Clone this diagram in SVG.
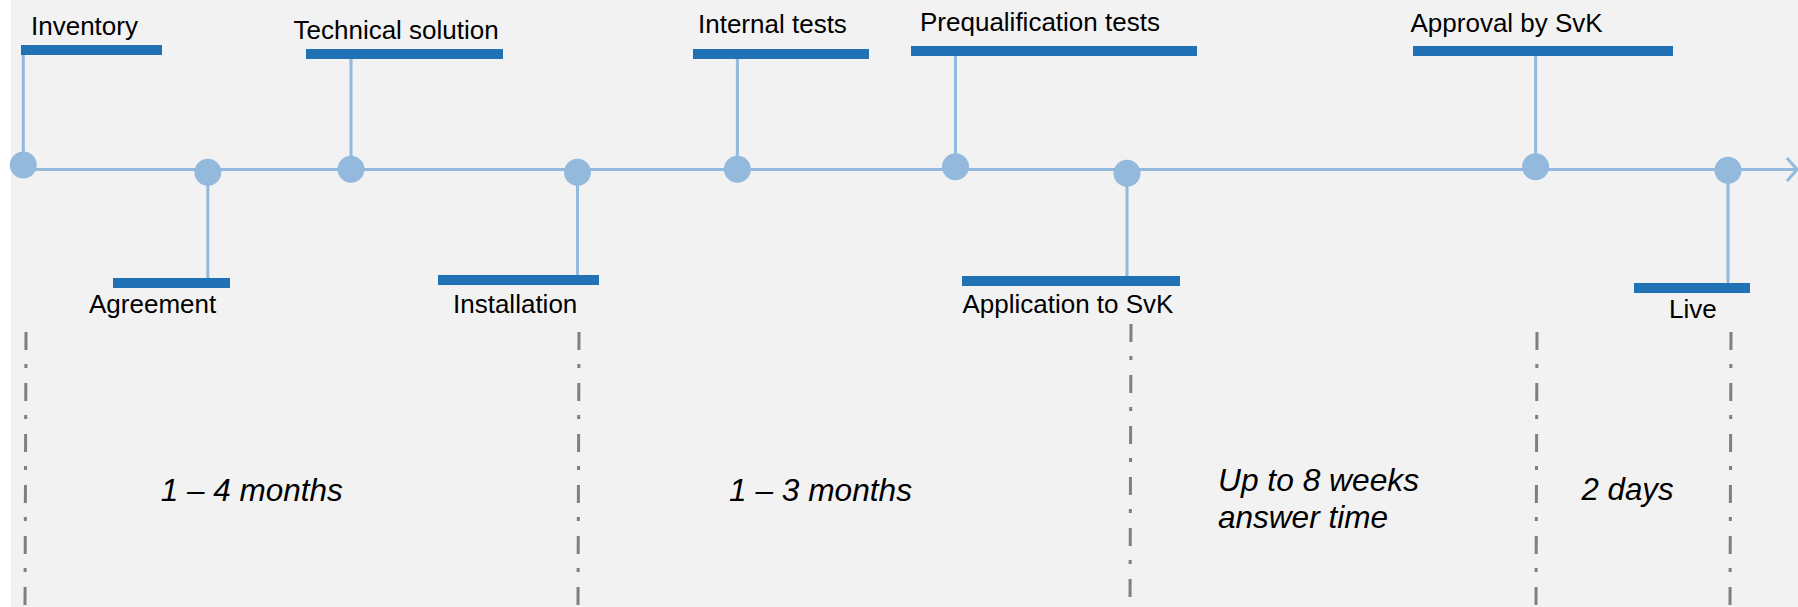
<svg xmlns="http://www.w3.org/2000/svg" width="1798" height="607" viewBox="0 0 1798 607">
<defs>
<style>
.lbl{font-family:"Liberation Sans",Arial,sans-serif;font-size:26px;fill:#000}
.per{font-family:"Liberation Sans",Arial,sans-serif;font-size:30.5px;font-style:italic;fill:#000}
.dot{fill:#93b9dd}
.stem{stroke:#93b9dd;stroke-width:3;fill:none}
.bar{fill:#2171b5}
.sep{stroke:#7f7f7f;stroke-width:3;stroke-dasharray:18 14 4 15;fill:none}
</style>
</defs>
<rect x="0" y="0" width="1798" height="607" fill="#ffffff"/>
<rect x="11" y="0" width="1787" height="607" fill="#f2f2f2"/>
<g id="connectors">
<line class="stem" x1="23" y1="169.5" x2="1797" y2="169.5"/>
<polyline class="stem" points="1787,158 1797,169.5 1787,181"/>
</g>
<g id="separators">
<line class="sep" x1="26" y1="332" x2="25" y2="607"/>
<line class="sep" x1="579" y1="332" x2="578" y2="607"/>
<line class="sep" x1="1131" y1="324" x2="1130" y2="607"/>
<line class="sep" x1="1537" y1="332" x2="1536" y2="607"/>
<line class="sep" x1="1731" y1="332" x2="1730" y2="607"/>
</g>
<g id="n-inventory">
<line class="stem" x1="23.3" y1="55" x2="23.3" y2="165"/>
<rect class="bar" x="21" y="45" width="141" height="10"/>
<circle class="dot" cx="23.3" cy="165" r="13.5"/>
<text class="lbl" x="31" y="35">Inventory</text>
</g>
<g id="n-agreement">
<line class="stem" x1="207.8" y1="172" x2="207.8" y2="278"/>
<rect class="bar" x="113" y="278" width="117" height="10"/>
<circle class="dot" cx="207.8" cy="172.3" r="13.5"/>
<text class="lbl" x="89" y="313">Agreement</text>
</g>
<g id="n-technical">
<line class="stem" x1="351" y1="59" x2="351" y2="169"/>
<rect class="bar" x="306" y="49" width="197" height="10"/>
<circle class="dot" cx="351" cy="169.3" r="13.5"/>
<text class="lbl" x="293.5" y="39">Technical solution</text>
</g>
<g id="n-installation">
<line class="stem" x1="577.5" y1="172" x2="577.5" y2="275"/>
<rect class="bar" x="438" y="275" width="161" height="10"/>
<circle class="dot" cx="577.5" cy="172.3" r="13.5"/>
<text class="lbl" x="453" y="313">Installation</text>
</g>
<g id="n-internal">
<line class="stem" x1="737.4" y1="59" x2="737.4" y2="169"/>
<rect class="bar" x="693" y="49" width="176" height="10"/>
<circle class="dot" cx="737.4" cy="169.3" r="13.5"/>
<text class="lbl" x="698" y="33">Internal tests</text>
</g>
<g id="n-prequal">
<line class="stem" x1="955.5" y1="56" x2="955.5" y2="166"/>
<rect class="bar" x="911" y="46" width="286" height="10"/>
<circle class="dot" cx="955.5" cy="166.7" r="13.5"/>
<text class="lbl" x="920" y="30.7">Prequalification tests</text>
</g>
<g id="n-application">
<line class="stem" x1="1127" y1="173" x2="1127" y2="276"/>
<rect class="bar" x="962" y="276" width="218" height="10"/>
<circle class="dot" cx="1127" cy="173.3" r="13.5"/>
<text class="lbl" x="962.4" y="312.7">Application to SvK</text>
</g>
<g id="n-approval">
<line class="stem" x1="1535.6" y1="56" x2="1535.6" y2="166"/>
<rect class="bar" x="1413" y="46" width="260" height="10"/>
<circle class="dot" cx="1535.6" cy="166.7" r="13.5"/>
<text class="lbl" x="1410.5" y="31.7">Approval by SvK</text>
</g>
<g id="n-live">
<line class="stem" x1="1728" y1="170" x2="1728" y2="283"/>
<rect class="bar" x="1634" y="283" width="116" height="10"/>
<circle class="dot" cx="1728" cy="170.3" r="13.5"/>
<text class="lbl" x="1669" y="318">Live</text>
</g>
<g id="p-1">
<text class="per" x="160.7" y="501" textLength="182" lengthAdjust="spacingAndGlyphs">1 – 4 months</text>
</g>
<g id="p-2">
<text class="per" x="729" y="501" textLength="183" lengthAdjust="spacingAndGlyphs">1 – 3 months</text>
</g>
<g id="p-3">
<text class="per" x="1218" y="490.7" textLength="201" lengthAdjust="spacingAndGlyphs">Up to 8 weeks</text>
<text class="per" x="1218" y="528" textLength="170" lengthAdjust="spacingAndGlyphs">answer time</text>
</g>
<g id="p-4">
<text class="per" x="1581.5" y="500" textLength="92" lengthAdjust="spacingAndGlyphs">2 days</text>
</g>
</svg>
